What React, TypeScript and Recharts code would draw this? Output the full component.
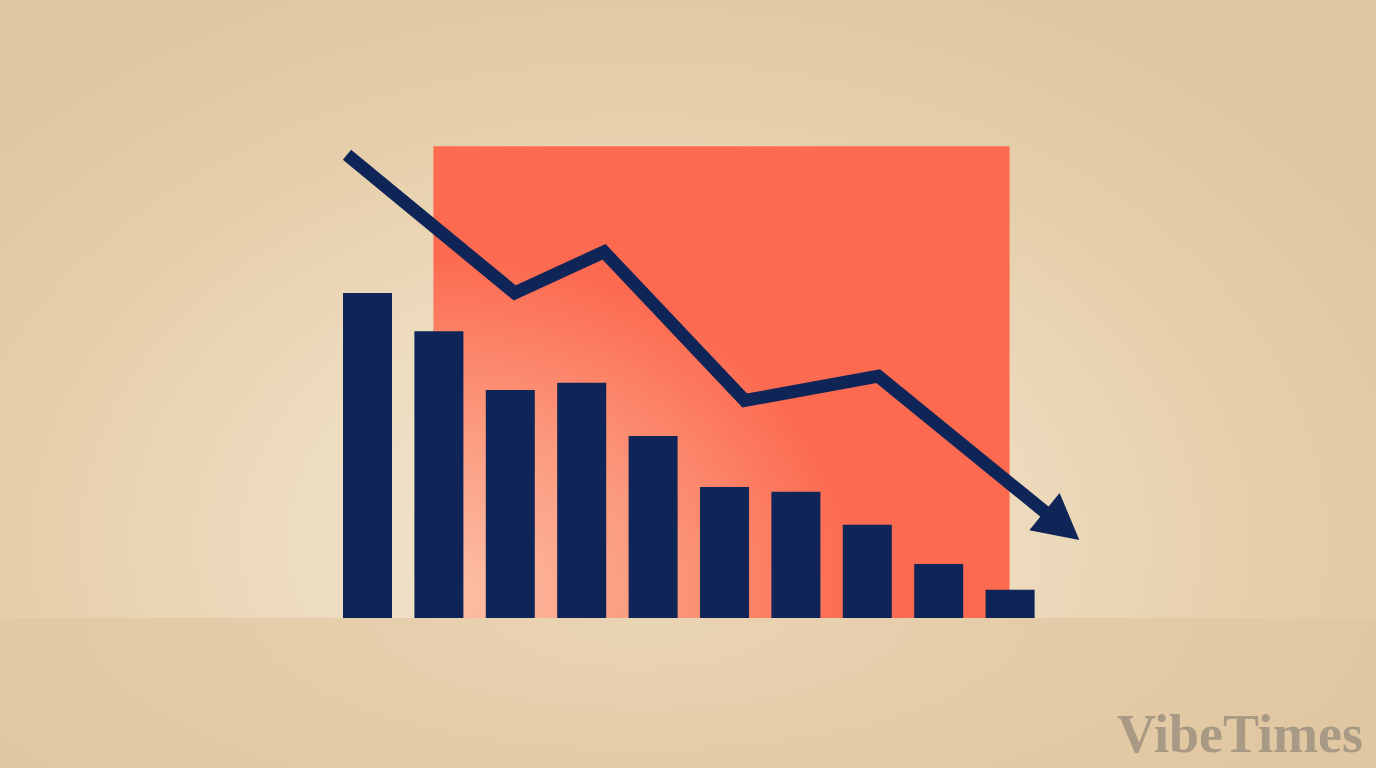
import { Bar, ComposedChart, Line, ReferenceArea, XAxis, YAxis } from 'recharts'

// bar slots (categories) (0-100 scale)
const barSlots = [1, 2, 3, 4, 5, 6, 7, 8, 9, 10]
const barValues = [68.0, 60.0, 47.7, 49.2, 38.1, 27.4, 26.4, 19.5, 11.3, 5.9]

// downward trend line on the same slot scale, last point is where the arrowhead sits
const trendSlots = [0.71, 3.06, 4.31, 6.28, 8.15, 10.5]
const trendValues = [96.9, 68.0, 76.6, 45.5, 50.6, 22.0]

// red backdrop panel
const panelSpan = [1.92, 9.99]
const panelTop = 98.7

const watermark = 'VibeTimes'

const COLORS = {
  navy: '#0f2457',
  red: '#fc6a50',
  glow: '#fcc0a6',
  mark: '#a89a84'
}

const barRows = barSlots.map((x, i) => ({ x, bar: barValues[i] }))
const trendRows = trendSlots.map((x, i) => ({ x, trend: trendValues[i], tip: i === trendSlots.length - 1 }))

function ArrowHead(props: any) {
  const { cx, cy, payload, points, index } = props
  if (!payload || !payload.tip || cx == null || cy == null) return <g key={`d${index}`} />
  let angle = 0.684
  const pts = (points || []).filter((p: any) => p && Number.isFinite(p.y) && p.value != null)
  if (pts.length > 1) {
    const prev = pts[pts.length - 2]
    angle = Math.atan2(cy - prev.y, cx - prev.x)
  }
  const c = Math.cos(angle)
  const s = Math.sin(angle)
  const len = 43
  const half = 24
  const corners = [
    [cx + c * len, cy + s * len],
    [cx - s * half - c * 2, cy + c * half - s * 2],
    [cx + s * half - c * 2, cy - c * half - s * 2]
  ]
  return <polygon key={`d${index}`} points={corners.map((p) => p.join(',')).join(' ')} fill={COLORS.navy} />
}

export default function App() {
  return (
    <div style={{ position: 'fixed', left: 0, top: 0, width: 1376, height: 768, overflow: 'hidden' }}>
      <div
        style={{
          position: 'absolute', left: 0, top: 0, width: 1376, height: 618,
          background: 'radial-gradient(ellipse 860px 600px at 640px 540px, #f3e6d1 0%, #eedcc0 40%, #e6cfab 70%, #e1c7a1 100%)'
        }}
      />
      <div
        style={{
          position: 'absolute', left: 0, top: 618, width: 1376, height: 150,
          background: 'radial-gradient(ellipse 760px 260px at 640px 0px, #e9d4b3 0%, #e4cba7 60%, #e1c7a1 100%)'
        }}
      />
      <div style={{ position: 'absolute', left: 0, top: 0 }}>
        <ComposedChart width={1376} height={768} data={barRows} margin={{ top: 140, right: 330, bottom: 150, left: 332 }}>
          <defs>
            <radialGradient id="panelGlow" cx="0.02" cy="0.95" r="0.72">
              <stop offset="0%" stopColor={COLORS.glow} />
              <stop offset="50%" stopColor="#fb9a7e" />
              <stop offset="100%" stopColor={COLORS.red} />
            </radialGradient>
          </defs>
          <XAxis xAxisId="slots" type="category" dataKey="x" hide />
          <XAxis xAxisId="trend" type="number" dataKey="x" domain={[0.5, 10.5]} hide />
          <YAxis type="number" domain={[0, 100]} hide />
          <ReferenceArea xAxisId="trend" x1={panelSpan[0]} x2={panelSpan[1]} y1={0} y2={panelTop} fill="url(#panelGlow)" fillOpacity={1} stroke="none" ifOverflow="visible" />
          <Bar xAxisId="slots" dataKey="bar" fill={COLORS.navy} barSize={49} isAnimationActive={false} />
          <Line
            xAxisId="trend"
            data={trendRows}
            dataKey="trend"
            stroke={COLORS.navy}
            strokeWidth={13}
            strokeLinejoin="miter"
            strokeLinecap="butt"
            dot={ArrowHead}
            activeDot={false}
            isAnimationActive={false}
          />
        </ComposedChart>
      </div>
      <div
        style={{
          position: 'absolute', left: 1117, top: 707, fontFamily: '"Liberation Serif", serif', fontWeight: 700,
          fontSize: 54, lineHeight: '54px', color: COLORS.mark, whiteSpace: 'nowrap'
        }}
      >
        {watermark}
      </div>
    </div>
  )
}
